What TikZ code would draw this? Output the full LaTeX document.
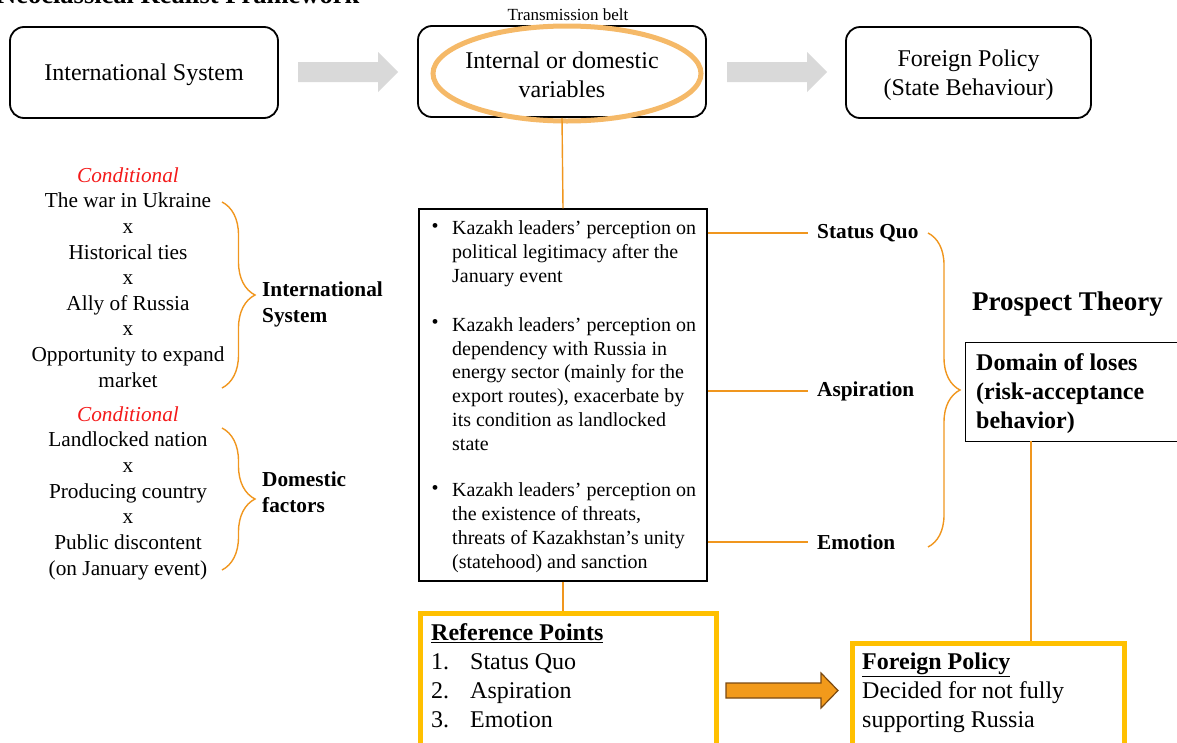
\documentclass[tikz,border=0pt]{standalone}
\usepackage{fontspec}
\setmainfont{Liberation Serif}
\usetikzlibrary{decorations.pathreplacing,shapes.geometric,calc}
\definecolor{orl}{HTML}{F0961E}
\definecolor{ell}{HTML}{F5B968}
\definecolor{yel}{HTML}{FFC000}
\definecolor{garrow}{HTML}{D9D9D9}
\definecolor{condred}{HTML}{F41A1A}
\definecolor{oarrow}{HTML}{F29A1B}
\definecolor{oborder}{HTML}{7B4A12}
\newcommand\setfs[2]{\fontsize{#1}{#2}\selectfont}
\tikzset{
  rbox/.style={draw, line width=1.8, rounded corners=14, inner sep=0},
  boxtext/.style={inner sep=0, align=center, font={\setfs{24}{29}}},
  txt/.style={inner sep=0, align=center},
  org/.style={draw=orl, line width=1.4},
  bracestyle/.style={org, decorate, decoration={brace, amplitude=#1, aspect=0.5}},
  lbl/.style={inner sep=0, anchor=west, font={\setfs{21.3}{26}\bfseries}},
  bul/.style={inner sep=0, anchor=west, align=left, font={\setfs{20}{23.8}}},
  dot/.style={inner sep=0, font={\setfs{20}{23.8}}},
  ybox/.style={draw=yel, line width=5, inner sep=0, anchor=north west},
}
\begin{document}
\begin{tikzpicture}[x=1pt,y=-1pt]
\useasboundingbox (0,0) rectangle (1177,742);
\clip (0,0) rectangle (1177,742);

% title (cut off at top)
\node[anchor=base west, inner sep=0, font={\setfs{26.5}{30}\bfseries}] (title) at (-3,3.5) {Neoclassical Realist Framework};

% top row
\node[rbox, minimum width=268, minimum height=91] (intl) at (144,72.5) {};
\node[boxtext] (intlt) at (144,75) {International System};
\node[rbox, minimum width=288, minimum height=91] (internal) at (562,71.5) {};
\node[draw=ell, line width=5, ellipse, inner sep=0, minimum width=268, minimum height=95] (belt) at (567,73.5) {};
\node[boxtext] (internalt) at (562,74.5) {Internal or domestic\\variables};
\node[txt, font={\setfs{17}{20}}] (tb) at (568,15) {Transmission belt};
\node[rbox, minimum width=245, minimum height=91] (fp) at (968.5,72.5) {};
\node[boxtext] (fpt) at (968.5,75) {Foreign Policy\\(State Behaviour)};

% grey block arrows
\fill[garrow] (298,62) -- (378,62) -- (378,52) -- (398,72) -- (378,92) -- (378,82) -- (298,82) -- cycle;
\fill[garrow] (727,62) -- (807,62) -- (807,52) -- (827,72) -- (807,92) -- (807,82) -- (727,82) -- cycle;

% left column
\node[txt, font={\setfs{21.3}{25.6}}] (cond1) at (128,277.5) {{\color{condred}\itshape Conditional}\\The war in Ukraine\\x\\Historical ties\\x\\Ally of Russia\\x\\Opportunity to expand\\market};
\node[txt, font={\setfs{21.3}{25.7}}] (cond2) at (128,493) {{\color{condred}\itshape Conditional}\\Landlocked nation\\x\\Producing country\\x\\Public discontent\\(on January event)};
\coordinate (b1t) at (222,202);
\coordinate (b1b) at (222,388);
\coordinate (b2t) at (222,428);
\coordinate (b2b) at (222,570);
\draw[bracestyle=33] (b1t) -- (b1b);
\draw[bracestyle=33] (b2t) -- (b2b);
\node[lbl, align=left] (intlab) at (262,304) {International\\System};
\node[lbl, align=left] (domlab) at (262,492.5) {Domestic\\factors};

% central box
\node[draw, line width=1.3, minimum width=288, minimum height=372, inner sep=0] (kbox) at (563,395) {};
\draw[org] (internal.south) -- (kbox.north);
\node[dot] (d1) at (435,228) {•};
\node[dot] (d2) at (435,324) {•};
\node[dot] (d3) at (435,490) {•};
\node[bul] (k1) at (452,253.5) {Kazakh leaders’ perception on\\political legitimacy after the\\January event};
\node[bul] (k2) at (452,384) {Kazakh leaders’ perception on\\dependency with Russia in\\energy sector (mainly for the\\export routes), exacerbate by\\its condition as landlocked\\state};
\node[bul] (k3) at (452,527.5) {Kazakh leaders’ perception on\\the existence of threats,\\threats of Kazakhstan’s unity\\(statehood) and sanction};

% reference labels
\node[lbl] (sq) at (817,233) {Status Quo};
\node[lbl] (asp) at (817,391) {Aspiration};
\node[lbl] (emo) at (817,542) {Emotion};
\draw[org] (kbox.east |- sq.west) -- ([xshift=-9]sq.west);
\draw[org] (kbox.east |- asp.west) -- ([xshift=-9]asp.west);
\draw[org] (kbox.east |- emo.west) -- ([xshift=-9]emo.west);
\coordinate (b3t) at (928,233);
\coordinate (b3b) at (928,547);
\draw[bracestyle=32] (b3t) -- (b3b);

% prospect theory
\node[inner sep=0, anchor=west, font={\setfs{27}{32}\bfseries}] (pt) at (972,304) {Prospect Theory};
\node[draw, line width=1.3, minimum width=222, minimum height=99, inner sep=0, anchor=north west] (dom) at (965,342) {};
\node[inner sep=0, anchor=west, align=left, font={\setfs{24}{29}\bfseries}] (domt) at (976,393.5) {Domain of loses\\(risk-acceptance\\behavior)};

% bottom boxes
\node[ybox, minimum width=296, minimum height=150] (ref) at (418,611) {};
\node[inner sep=0, anchor=west, align=left, font={\setfs{24}{29}}] (reft) at (431,676) {\underline{\textbf{Reference Points}}\\\makebox[39pt][l]{1.}Status Quo\\\makebox[39pt][l]{2.}Aspiration\\\makebox[39pt][l]{3.}Emotion};
\node[ybox, minimum width=272, minimum height=120] (fp2) at (850,641) {};
\node[inner sep=0, anchor=west, align=left, font={\setfs{24}{29}}] (fp2t) at (862,693) {\underline{\textbf{Foreign Policy}}\\Decided for not fully\\supporting Russia};
\draw[org] (kbox.south) -- (kbox.south |- ref.north);
\coordinate (dl) at (1031,441);
\draw[org] (dl) -- (dl |- fp2.north);

% orange block arrow
\filldraw[fill=oarrow, draw=oborder, line width=1.2] (726,683) -- (821,683) -- (821,673) -- (838,690.5) -- (821,708) -- (821,698) -- (726,698) -- cycle;
\end{tikzpicture}
\end{document}
